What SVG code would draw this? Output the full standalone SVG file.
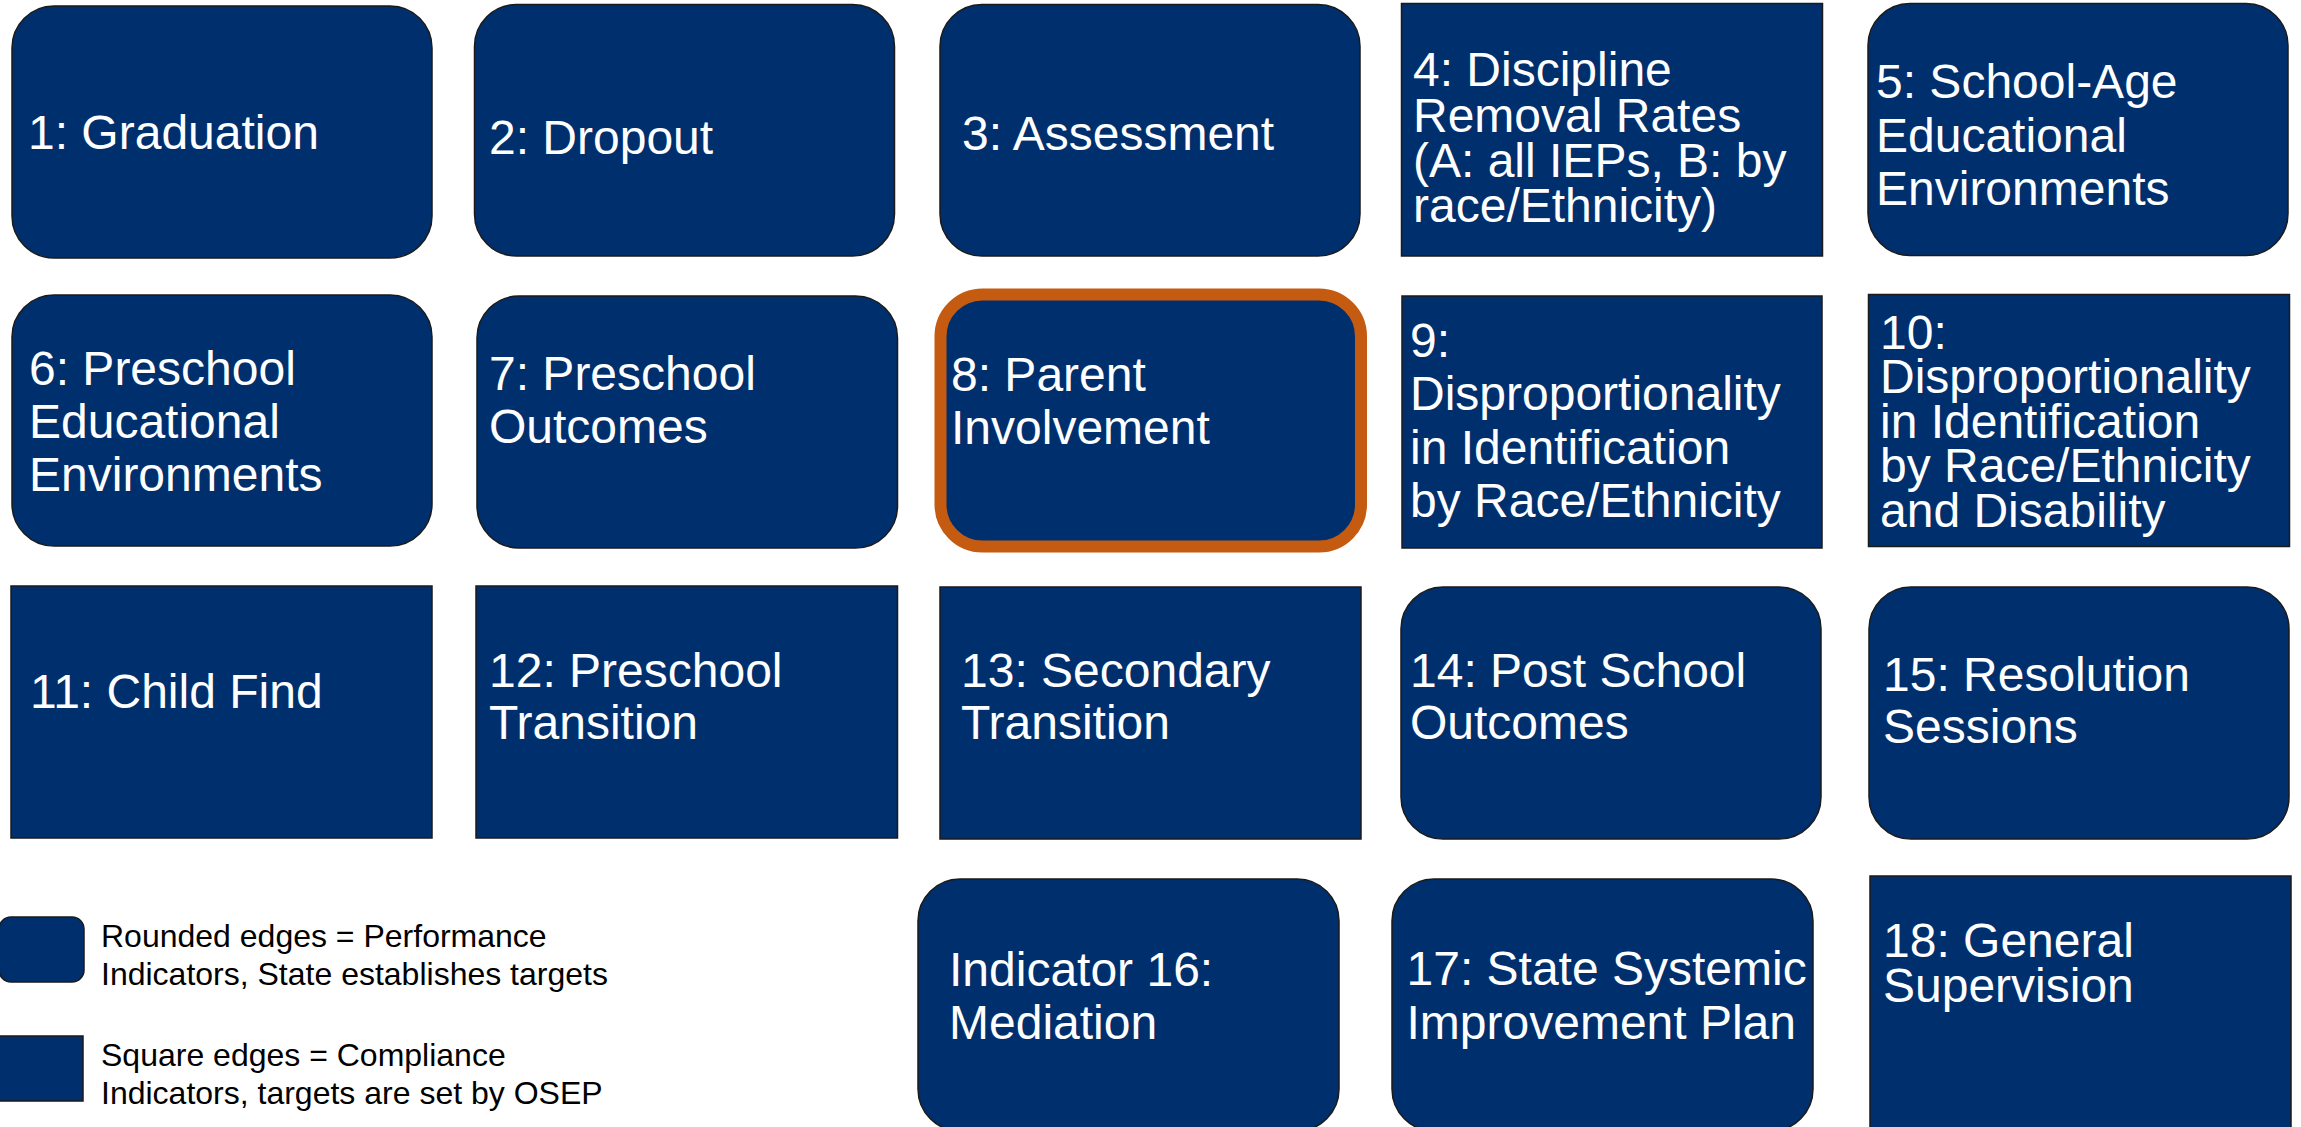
<svg xmlns="http://www.w3.org/2000/svg" width="2301" height="1127" viewBox="0 0 2301 1127">
<style>
.bg{fill:#ffffff}
.box{fill:#002F6E;stroke:#1a1a1a;stroke-width:1.5}
.hl{fill:#002F6E;stroke:#C55A11;stroke-width:12}
.t{font-family:"Liberation Sans",Arial,Helvetica,sans-serif;font-size:48px;fill:#ffffff}
.lg{font-family:"Liberation Sans",Arial,Helvetica,sans-serif;font-size:32px;fill:#000000}
</style>
<rect class="bg" x="0" y="0" width="2301" height="1127"/>
<g id="connectors"></g>

<g id="n1"><rect class="box" x="12" y="6" width="420" height="252" rx="42"/>
<text class="t" x="28" y="149">1: Graduation</text></g>
<g id="n2"><rect class="box" x="474.5" y="4.5" width="420" height="251.5" rx="42"/>
<text class="t" x="489" y="153.5">2: Dropout</text></g>
<g id="n3"><rect class="box" x="940" y="4.5" width="420" height="251.5" rx="42"/>
<text class="t" x="962" y="150">3: Assessment</text></g>
<g id="n4"><rect class="box" x="1401.5" y="3.5" width="421" height="252.5"/>
<text class="t" x="1413" y="85.5">4: Discipline<tspan x="1413" y="131.5">Removal Rates</tspan><tspan x="1413" y="176.5">(A: all IEPs, B: by</tspan><tspan x="1413" y="221.5">race/Ethnicity)</tspan></text></g>
<g id="n5"><rect class="box" x="1868" y="3.5" width="420" height="252" rx="42"/>
<text class="t" x="1876" y="98">5: School-Age<tspan x="1876" y="151.5">Educational</tspan><tspan x="1876" y="205">Environments</tspan></text></g>

<g id="n6"><rect class="box" x="12" y="295" width="420" height="251" rx="42"/>
<text class="t" x="29" y="384.7">6: Preschool<tspan x="29" y="437.8">Educational</tspan><tspan x="29" y="491">Environments</tspan></text></g>
<g id="n7"><rect class="box" x="477" y="296" width="420.5" height="252" rx="42"/>
<text class="t" x="489" y="390">7: Preschool<tspan x="489" y="443">Outcomes</tspan></text></g>
<g id="n8"><rect class="hl" x="940.5" y="294.5" width="420.5" height="252" rx="42"/>
<text class="t" x="951" y="390.5">8: Parent<tspan x="951" y="443.5">Involvement</tspan></text></g>
<g id="n9"><rect class="box" x="1402" y="296" width="420" height="252"/>
<text class="t" x="1410" y="356.5">9:<tspan x="1410" y="410">Disproportionality</tspan><tspan x="1410" y="463.5">in Identification</tspan><tspan x="1410" y="517">by Race/Ethnicity</tspan></text></g>
<g id="n10"><rect class="box" x="1868.5" y="294.5" width="421" height="252"/>
<text class="t" x="1880" y="348.5">10:<tspan x="1880" y="393">Disproportionality</tspan><tspan x="1880" y="437.5">in Identification</tspan><tspan x="1880" y="482">by Race/Ethnicity</tspan><tspan x="1880" y="526.5">and Disability</tspan></text></g>

<g id="n11"><rect class="box" x="11" y="586" width="421" height="252"/>
<text class="t" x="30" y="708.3">11: Child Find</text></g>
<g id="n12"><rect class="box" x="476" y="586" width="421.5" height="252"/>
<text class="t" x="489" y="686.6">12: Preschool<tspan x="489" y="739">Transition</tspan></text></g>
<g id="n13"><rect class="box" x="940" y="587" width="421" height="252"/>
<text class="t" x="961" y="686.6">13: Secondary<tspan x="961" y="739">Transition</tspan></text></g>
<g id="n14"><rect class="box" x="1401" y="587" width="420" height="252" rx="42"/>
<text class="t" x="1410" y="686.6">14: Post School<tspan x="1410" y="739">Outcomes</tspan></text></g>
<g id="n15"><rect class="box" x="1869" y="587" width="420" height="252" rx="42"/>
<text class="t" x="1883" y="690.5">15: Resolution<tspan x="1883" y="743">Sessions</tspan></text></g>

<g id="n16"><rect class="box" x="918" y="879" width="421" height="252" rx="42"/>
<text class="t" x="949" y="986">Indicator 16:<tspan x="949" y="1039">Mediation</tspan></text></g>
<g id="n17"><rect class="box" x="1392" y="879" width="421" height="252" rx="42"/>
<text class="t" x="1406.5" y="985">17: State Systemic<tspan x="1406.5" y="1039">Improvement Plan</tspan></text></g>
<g id="n18"><rect class="box" x="1870" y="876" width="421" height="252"/>
<text class="t" x="1883" y="957">18: General<tspan x="1883" y="1002">Supervision</tspan></text></g>

<g id="legend-rounded"><rect class="box" x="-1" y="917" width="85" height="65" rx="12"/>
<text class="lg" x="101" y="947">Rounded edges = Performance<tspan x="101" y="985">Indicators, State establishes targets</tspan></text></g>
<g id="legend-square"><rect class="box" x="-1" y="1036" width="84" height="65"/>
<text class="lg" x="101" y="1066">Square edges = Compliance<tspan x="101" y="1104">Indicators, targets are set by OSEP</tspan></text></g>
</svg>
